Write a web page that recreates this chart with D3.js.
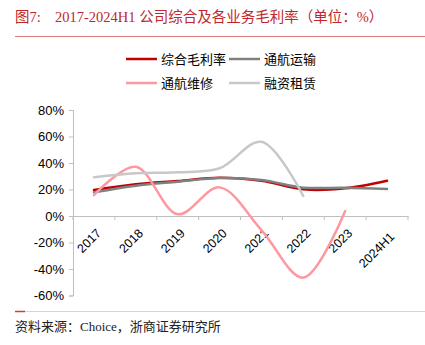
<!DOCTYPE html>
<html><head><meta charset="utf-8">
<script src="https://cdn.jsdelivr.net/npm/d3@7"></script>
<style>body{margin:0;background:#fff;}svg{display:block;}</style>
</head><body>
<svg id="c" width="425" height="345"></svg>
<script>
const categories = ["2017","2018","2019","2020","2021","2022","2023","2024H1"];
const seriesNames = ["综合毛利率","通航运输","通航维修","融资租赁"];
const zonghe = [19.6, 24.0, 26.4, 28.9, 26.6, 20.1, 20.9, 26.6];
const yunshu = [17.9, 22.9, 25.9, 28.7, 27.2, 21.4, 21.4, 20.4];
const weixiu = [15.8, 37.2, 1.3, 21.6, -10.6, -46.5, 3.8, null];
const zulin  = [29.2, 32.2, 33.0, 36.0, 56.0, 15.1, null, null];
const yTicks = [-60,-40,-20,0,20,40,60,80];
const colors = ["#c00000","#808080","#ff97a0","#c8c8c8"];

const svg = d3.select("#c");
const serif = "'Liberation Serif','Noto Sans CJK SC',serif";
const sans = "'Liberation Sans',Arial,'Noto Sans CJK SC',sans-serif";

// title
const t = svg.append("text").attr("y",22).attr("font-family",serif).attr("font-size",14.5).attr("fill","#c0272d");
t.append("tspan").attr("x",15).text("图7:");
t.append("tspan").attr("x",55).text("2017-2024H1 公司综合及各业务毛利率（单位：%）");
svg.append("line").attr("x1",15).attr("x2",425).attr("y1",36.5).attr("y2",36.5).attr("stroke","#e07a7e").attr("stroke-width",1);

const x = d3.scaleBand().domain(categories).range([73,408]);
const y = d3.scaleLinear().domain([-60,80]).range([295.5,110]);

// y axis
const ya = svg.append("g").attr("transform","translate(73,0)")
  .call(d3.axisLeft(y).tickValues(yTicks).tickSize(4).tickFormat(d=>d+"%"));
ya.select(".domain").attr("stroke","#bfbfbf");
ya.selectAll(".tick line").attr("stroke","#bfbfbf");
ya.selectAll("text").attr("font-family",sans).attr("font-size",13).attr("fill","#000").attr("x",-9);

// x axis at 0
const xa = svg.append("g").attr("transform",`translate(0,${y(0)})`)
  .call(d3.axisBottom(x).tickSize(0).tickSizeOuter(0));
xa.select(".domain").attr("stroke","#bfbfbf");
xa.selectAll(".tick line").remove();
const bounds = categories.map(c=>x(c)).concat([x.range()[1]]);
xa.selectAll(".bt").data(bounds).enter().append("line")
  .attr("x1",d=>d).attr("x2",d=>d).attr("y1",0).attr("y2",4).attr("stroke","#bfbfbf");
xa.selectAll(".tick text").attr("font-family",sans).attr("font-size",12.5).attr("fill","#000")
  .attr("text-anchor","end").attr("dy",0).attr("y",0)
  .attr("transform",d=>`translate(8,${18 + (d.length-4)*1.8}) rotate(-45)`);

// lines
const all = [zonghe, yunshu, weixiu, zulin];
const line = d3.line().defined(d=>d.v!=null)
  .x(d=>x(d.c)+x.bandwidth()/2).y(d=>y(d.v)).curve(d3.curveCatmullRom.alpha(0.5));
all.forEach((vals,i)=>{
  const data = categories.map((c,j)=>({c, v: vals[j]}));
  svg.append("path").attr("d",line(data)).attr("fill","none")
    .attr("stroke",colors[i]).attr("stroke-width",2.5).attr("stroke-linecap","round");
});

// legend
const leg = [[126,59],[229,59],[126,83],[229,83]];
seriesNames.forEach((n,i)=>{
  const [lx,ly] = leg[i];
  svg.append("line").attr("x1",lx).attr("x2",lx+31).attr("y1",ly).attr("y2",ly)
    .attr("stroke",colors[i]).attr("stroke-width",2.5);
  svg.append("text").attr("x",lx+35).attr("y",ly+4.5).attr("font-family",sans)
    .attr("font-size",13).attr("fill","#000").text(n);
});

// footer
svg.append("line").attr("x1",25).attr("x2",425).attr("y1",311.5).attr("y2",311.5).attr("stroke","#f4c9cb").attr("stroke-width",1);
svg.append("line").attr("x1",15).attr("x2",25).attr("y1",311.5).attr("y2",311.5).attr("stroke","#d23c3c").attr("stroke-width",1.5);
svg.append("text").attr("x",15).attr("y",331).attr("font-family",serif).attr("font-size",13)
  .attr("fill","#222").text("资料来源：Choice，浙商证券研究所");
</script>
</body></html>
